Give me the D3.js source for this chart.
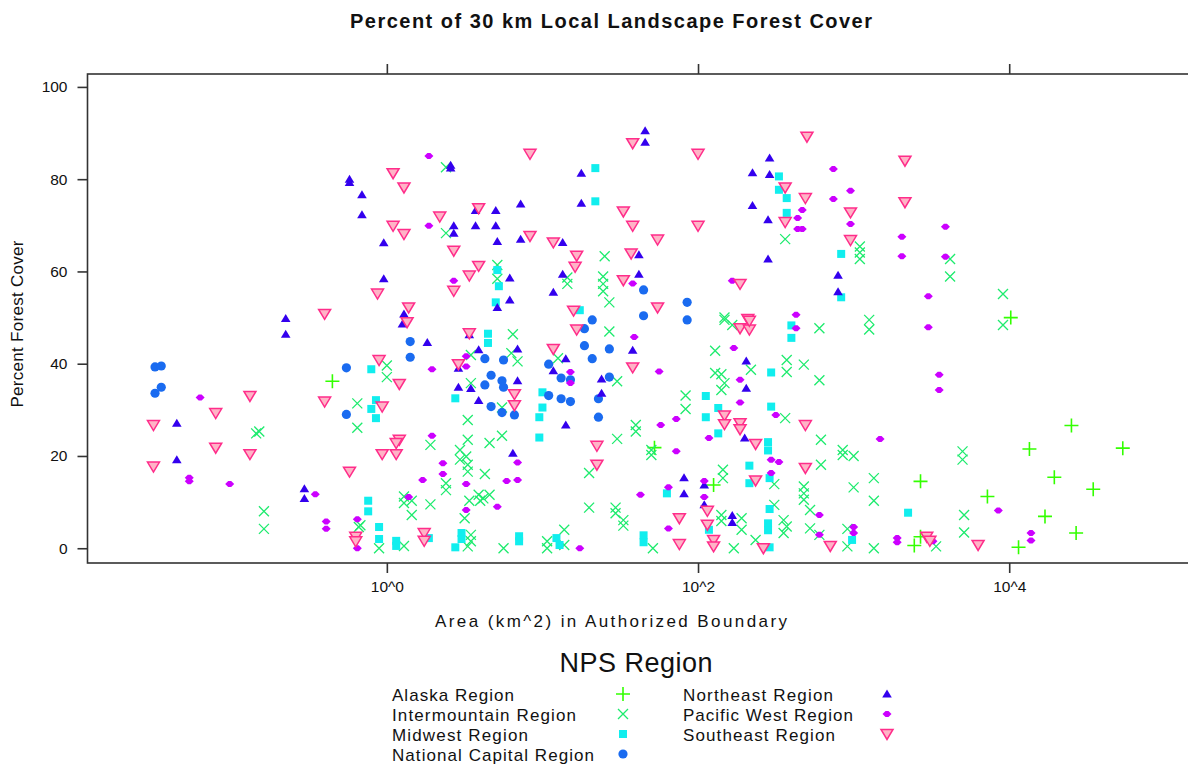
<!DOCTYPE html>
<html>
<head>
<meta charset="utf-8">
<script src="https://cdn.jsdelivr.net/npm/d3@7"></script>
<style>
  body { margin: 0; background: #fff; }
  text { font-family: Arial, "Liberation Sans", sans-serif; fill: #111; }
</style>
</head>
<body>
<svg id="chart" width="1188" height="769"></svg>
<script>
// each point: [log10 area (km^2), percent forest cover]
const alaska = [[-0.35,36.2],[1.72,21.8],[2.10,13.7],[4.01,50.0],[4.40,26.6],[4.13,21.5],[4.73,21.7],[3.43,14.5],
  [4.29,15.4],[3.86,11.2],[4.54,12.8],[4.23,6.9],[4.43,3.3],[4.06,0.2],[3.43,2.5],[3.39,0.6]];

const intermountain = [[0.38,82.6],[0.38,68.3],[-0.84,24.9],[-0.82,25.3],[-0.79,8.0],[-0.79,4.2],[0.00,39.6],[0.00,37.1],
  [-0.19,31.4],[-0.19,26.1],[0.28,22.4],[0.38,14.1],[0.38,12.6],[0.11,11.2],[0.16,10.3],[0.11,9.8],[0.28,9.5],[0.16,7.2],
  [-0.18,4.6],[-0.17,5.0],[-0.05,0],[0.11,0.5],[1.40,63.3],[0.71,61.4],[0.71,58.4],[1.16,58.7],[1.16,57.3],[1.39,58.9],
  [1.39,57.3],[1.39,55.7],[1.43,53.3],[2.56,67.0],[2.17,50.0],[0.81,46.4],[1.43,47.0],[0.54,41.9],[0.80,42.3],[0.84,40.5],
  [1.10,41.2],[1.48,36.2],[0.54,35.8],[0.74,30.5],[0.52,27.8],[0.52,23.5],[0.66,22.8],[0.74,24.4],[0.47,21.3],[0.51,19.9],
  [0.47,19.2],[0.52,18.1],[0.52,16.6],[0.63,16.1],[0.59,11.6],[0.62,10.8],[0.66,11.6],[0.60,10.3],[0.53,10.3],[0.50,6.5],
  [0.54,2.9],[0.54,1.5],[0.52,0.4],[0.75,0],[1.03,1.5],[1.03,0],[1.14,4.0],[1.14,0.7],[1.30,8.8],[1.47,8.8],[1.47,7.6],
  [1.52,6.1],[1.52,4.9],[1.30,16.3],[1.48,23.7],[1.60,26.7],[1.60,25.3],[1.92,33.1],[1.92,30.2],[1.70,21.3],[1.70,20.2],
  [1.71,0],[2.16,17.0],[2.16,15.2],[2.15,7.2],[2.15,5.9],[2.28,6.5],[2.28,4.0],[2.23,0],[2.37,1.8],[2.49,9.4],[2.55,6.1],
  [2.57,4.7],[2.55,3.3],[2.68,13.4],[2.68,11.9],[2.68,10.5],[2.72,8.3],[2.72,4.3],[2.78,2.9],[2.79,18.1],[2.79,23.5],
  [2.11,42.8],[2.34,38.7],[2.11,38.0],[2.15,37.7],[2.17,35.8],[2.15,34.3],[2.56,28.2],[2.57,40.8],[2.57,38.2],[2.68,39.8],
  [2.78,36.4],[2.78,47.7],[2.17,49.5],[2.22,48.4],[2.49,13.9],[3.04,65.4],[3.04,64.1],[3.04,62.7],[3.62,62.7],[3.62,58.9],
  [3.96,55.1],[3.10,49.5],[3.10,47.4],[3.96,48.4],[2.93,21.3],[2.93,20.2],[3.00,20.0],[3.70,21.0],[3.70,19.2],[3.13,15.2],
  [3.00,13.2],[3.13,10.3],[3.71,7.2],[3.71,3.4],[3.53,0.4],[2.96,4.2],[2.96,0.4],[3.13,0]];

const midwest = [[-0.10,38.8],[-0.07,32.1],[-0.10,30.2],[-0.07,28.2],[-0.12,10.3],[-0.12,8.0],[-0.05,4.6],[-0.05,2.0],
  [0.06,1.6],[0.06,0.5],[0.27,2.2],[0.44,32.5],[0.44,0.2],[1.34,82.4],[1.34,75.2],[2.52,80.6],[2.52,77.7],[2.57,75.9],
  [2.57,72.7],[0.71,60.3],[0.72,56.8],[0.70,53.3],[1.24,51.6],[0.65,46.5],[0.65,44.5],[1.00,33.8],[1.00,30.5],[0.98,28.4],
  [0.98,24.0],[0.48,3.3],[0.48,2.0],[0.85,1.5],[0.85,2.6],[1.09,2.2],[1.11,0.7],[1.80,11.9],[1.65,2.8],[1.65,1.3],[2.07,4.0],
  [2.46,0.2],[2.45,5.4],[2.45,3.9],[2.46,8.5],[2.05,33.0],[2.05,28.4],[2.13,30.4],[2.13,24.9],[2.45,23.0],[2.45,21.2],
  [2.33,17.9],[2.33,14.1],[2.46,15.2],[2.47,38.1],[2.47,30.7],[2.60,48.3],[2.60,45.6],[2.92,63.8],[2.92,54.4],[3.35,7.7],
  [2.99,1.8]];

const nationalCapital = [[0.15,44.8],[0.15,41.4],[-1.49,39.3],[-1.45,39.5],[-1.49,33.6],[-1.45,34.9],[-0.26,39.1],[-0.26,29.0],
  [1.32,49.5],[1.65,56.0],[1.93,53.3],[1.65,50.4],[1.93,49.5],[1.27,47.6],[1.27,43.9],[1.43,43.2],[1.32,41.1],[0.63,41.1],
  [0.75,40.8],[1.04,39.9],[1.12,36.9],[1.18,36.5],[1.43,37.1],[0.67,37.5],[0.74,36.3],[0.75,34.9],[0.63,35.4],[0.67,30.7],
  [0.74,29.4],[0.82,28.9],[1.04,33.1],[1.12,32.4],[1.18,31.8],[1.36,32.4],[1.36,28.4]];

const northeast = [[0.41,82.4],[0.41,83.0],[-0.24,79.3],[-0.24,80.0],[-0.16,76.6],[-0.16,72.3],[0.43,69.9],[0.43,68.3],
  [-0.02,66.2],[-0.02,58.4],[0.11,50.8],[-0.65,49.8],[-0.65,46.4],[0.10,48.6],[0.26,44.6],[-1.35,27.1],[-1.35,19.2],
  [-0.53,12.9],[-0.53,10.8],[1.66,90.5],[1.66,88.0],[2.46,84.6],[2.35,81.4],[2.46,81.0],[1.25,81.3],[1.25,74.8],[2.35,74.3],
  [2.45,71.2],[2.45,62.7],[0.57,73.2],[0.70,73.2],[0.86,74.6],[0.57,69.9],[0.70,69.9],[0.71,66.5],[0.86,67.0],[1.13,66.3],
  [1.62,63.6],[0.79,58.6],[1.13,59.4],[1.62,59.4],[1.07,55.5],[0.79,53.8],[0.71,52.2],[0.53,46.3],[1.58,42.9],[0.59,43.0],
  [0.84,43.2],[1.15,41.1],[1.07,38.5],[1.38,36.7],[0.84,36.3],[0.54,34.6],[0.46,34.9],[0.59,32.0],[1.38,33.6],[1.15,26.7],
  [0.81,20.6],[1.91,15.3],[1.91,11.8],[2.04,13.7],[2.04,9.4],[2.22,7.1],[2.22,5.6],[2.31,40.6],[2.31,34.7],[2.30,23.9],
  [0.46,39.0],[2.90,59.2],[2.90,55.6]];

const pacificWest = [[0.27,85.0],[0.27,69.9],[0.43,58.0],[-1.20,32.7],[-1.27,15.3],[-1.27,14.5],[-1.01,13.9],[-0.46,11.7],
  [-0.39,5.8],[-0.39,4.2],[0.29,38.8],[0.29,24.4],[0.36,18.4],[0.36,16.1],[0.23,14.8],[0.14,11.1],[-0.19,6.3],[-0.19,0],
  [2.67,73.3],[2.64,71.6],[2.64,69.2],[2.67,69.2],[1.58,57.4],[2.22,58.0],[2.63,50.6],[1.59,45.8],[1.75,38.3],[0.51,41.6],
  [0.51,39.4],[1.18,38.2],[1.18,35.8],[0.51,13.9],[0.84,18.6],[0.77,14.6],[0.84,14.8],[0.71,9.0],[0.51,8.3],[1.24,0],
  [1.76,26.7],[1.86,28.0],[1.86,21.0],[1.81,13.2],[1.63,11.6],[1.81,4.3],[2.04,14.6],[2.04,11.1],[2.78,7.2],[2.78,2.9],
  [2.23,43.4],[2.27,36.5],[2.27,31.6],[2.07,23.9],[2.47,19.2],[2.52,18.7],[2.47,16.3],[2.50,28.9],[2.63,47.7],[2.87,82.2],
  [2.98,77.5],[2.87,75.7],[2.98,70.3],[3.59,69.7],[3.31,67.5],[3.31,63.3],[3.59,63.2],[3.48,54.6],[3.48,47.9],[3.55,37.6],
  [3.55,34.3],[3.17,23.7],[3.93,8.2],[4.14,3.3],[4.14,1.7],[3.28,2.2],[3.28,1.3],[3.51,1.5],[3.00,4.6],[3.00,3.3]];

const southeast = [[0.04,81.3],[0.11,78.2],[0.34,71.9],[0.04,69.9],[0.11,68.1],[0.43,64.5],[0.43,55.8],[-0.06,55.2],
  [0.14,52.2],[-0.40,50.8],[0.13,49.0],[-0.88,33.0],[-1.10,29.3],[-1.50,26.7],[-1.10,21.8],[-0.88,20.4],[-1.50,17.7],
  [-0.40,31.8],[-0.05,40.8],[0.08,35.6],[-0.03,30.7],[0.08,23.5],[0.06,22.8],[-0.03,20.4],[0.06,20.4],[-0.24,16.6],
  [-0.20,2.5],[-0.20,1.5],[0.24,3.3],[0.24,1.6],[1.58,87.8],[0.92,85.5],[2.00,85.5],[2.70,89.2],[2.56,78.2],[2.69,75.9],
  [2.56,70.7],[2.00,69.9],[1.52,73.0],[1.58,69.9],[1.74,66.9],[0.59,73.7],[0.92,67.7],[1.07,66.3],[1.22,63.4],[1.57,63.9],
  [1.21,61.0],[0.59,61.2],[0.53,59.1],[1.52,58.1],[1.20,51.5],[1.74,52.2],[2.27,57.3],[2.32,49.7],[0.53,46.6],[1.22,47.4],
  [1.58,39.2],[1.07,43.2],[0.46,39.9],[0.82,33.4],[0.82,31.0],[1.35,22.2],[1.35,18.1],[1.88,6.5],[1.88,0.9],[2.06,8.1],
  [2.06,5.1],[2.10,1.8],[2.10,0.4],[2.42,0],[2.69,17.4],[2.69,26.7],[2.17,28.8],[2.17,26.9],[2.27,27.1],[2.27,25.8],
  [2.37,22.6],[2.37,14.7],[2.27,47.7],[2.33,47.4],[2.33,49.3],[3.33,84.0],[3.33,75.0],[2.98,72.8],[2.98,66.8],[3.80,0.7],
  [3.47,2.5],[3.49,1.6],[2.85,0.5]];

const regionNames = ["Alaska Region", "Intermountain Region", "Midwest Region", "National Capital Region",
  "Northeast Region", "Pacific West Region", "Southeast Region"];
const xTicks = [0, 2, 4];
const yTicks = [0, 20, 40, 60, 80, 100];

const series = [
  {name: regionNames[0], data: alaska, sym: "plus"},
  {name: regionNames[1], data: intermountain, sym: "cross"},
  {name: regionNames[2], data: midwest, sym: "square"},
  {name: regionNames[3], data: nationalCapital, sym: "circle"},
  {name: regionNames[4], data: northeast, sym: "up"},
  {name: regionNames[5], data: pacificWest, sym: "diamond"},
  {name: regionNames[6], data: southeast, sym: "down"}
];

const svg = d3.select("#chart");
const plotL = 87.5, plotR = 1190, plotT = 74, plotB = 563;

const x = d3.scaleLinear().domain([-1.924, 5.162]).range([plotL, plotR]);
const y = d3.scaleLinear().domain([-3.2, 102.8]).range([plotB, plotT]);

// draws one symbol into g, centred at 0,0
function drawSymbol(g, sym) {
  if (sym === "plus") {
    g.append("path").attr("d", "M-7,0H7M0,-7V7").attr("stroke", "#33ff00").attr("stroke-width", 1.6).attr("fill", "none");
  } else if (sym === "cross") {
    g.append("path").attr("d", "M-5,-5L5,5M-5,5L5,-5").attr("stroke", "#1eeb6e").attr("stroke-width", 1.3).attr("fill", "none");
  } else if (sym === "square") {
    g.append("rect").attr("x", -4).attr("y", -4).attr("width", 8).attr("height", 8).attr("fill", "#11eeee");
  } else if (sym === "circle") {
    g.append("circle").attr("r", 4.6).attr("fill", "#1a6bf0");
  } else if (sym === "up") {
    g.append("path").attr("d", "M0,-4.5L4.8,3.5H-4.8Z").attr("fill", "#3300ee");
  } else if (sym === "diamond") {
    g.append("path").attr("d", "M-4.5,0L-1.5,-3H1.5L4.5,0L1.5,3H-1.5Z").attr("fill", "#cc00ff");
  } else if (sym === "down") {
    g.append("path").attr("d", "M-6,-4.5H6L0,5.5Z").attr("fill", "#ffb3c6").attr("stroke", "#ff2d8a").attr("stroke-width", 1.5);
  }
}

// points
series.forEach(s => {
  svg.append("g").selectAll("g").data(s.data).join("g")
    .attr("transform", d => `translate(${x(d[0])},${y(d[1])})`)
    .each(function() { drawSymbol(d3.select(this), s.sym); });
});

// frame
svg.append("rect").attr("x", plotL).attr("y", plotT).attr("width", plotR - plotL).attr("height", plotB - plotT)
  .attr("fill", "none").attr("stroke", "#333").attr("stroke-width", 1.6);

const yAxis = svg.append("g").attr("transform", `translate(${plotL},0)`)
  .call(d3.axisLeft(y).tickValues(yTicks).tickSize(10).tickPadding(10));
const xAxis = svg.append("g").attr("transform", `translate(0,${plotB})`)
  .call(d3.axisBottom(x).tickValues(xTicks).tickFormat(d => "10^" + d).tickSize(10).tickPadding(8));
const xTop = svg.append("g").attr("transform", `translate(0,${plotT})`)
  .call(d3.axisTop(x).tickValues(xTicks).tickFormat("").tickSize(10));
[yAxis, xAxis, xTop].forEach(a => {
  a.select(".domain").remove();
  a.selectAll("line").attr("stroke", "#333").attr("stroke-width", 1.6);
  a.selectAll("text").attr("font-size", 15.5).attr("font-family", "Arial, 'Liberation Sans', sans-serif").attr("fill", "#111");
});

// titles
svg.append("text").attr("x", 611).attr("y", 28).attr("text-anchor", "middle")
  .attr("font-size", 20).attr("font-weight", "bold").attr("textLength", 522).attr("lengthAdjust", "spacing")
  .text("Percent of 30 km Local Landscape Forest Cover");
svg.append("text").attr("x", 611).attr("y", 627).attr("text-anchor", "middle")
  .attr("font-size", 17).attr("textLength", 352).attr("lengthAdjust", "spacing")
  .text("Area (km^2) in Authorized Boundary");
svg.append("text").attr("transform", "translate(23,324) rotate(-90)").attr("text-anchor", "middle")
  .attr("font-size", 17).attr("textLength", 167).attr("lengthAdjust", "spacing")
  .text("Percent Forest Cover");

// legend
svg.append("text").attr("x", 636).attr("y", 672).attr("text-anchor", "middle")
  .attr("font-size", 27).attr("textLength", 153).attr("lengthAdjust", "spacing")
  .text("NPS Region");
const labelWidths = [122, 184, 136, 202, 150, 170, 152];
series.forEach((s, i) => {
  const col = i < 4 ? 0 : 1, row = i < 4 ? i : i - 4;
  const tx = col ? 683 : 392, sx = col ? 887 : 623, by = 701 + row * 20;
  svg.append("text").attr("x", tx).attr("y", by).attr("font-size", 17)
    .attr("textLength", labelWidths[i]).attr("lengthAdjust", "spacing").text(s.name);
  const g = svg.append("g").attr("transform", `translate(${sx},${by - 7})`);
  drawSymbol(g, s.sym);
});
</script>
</body>
</html>
